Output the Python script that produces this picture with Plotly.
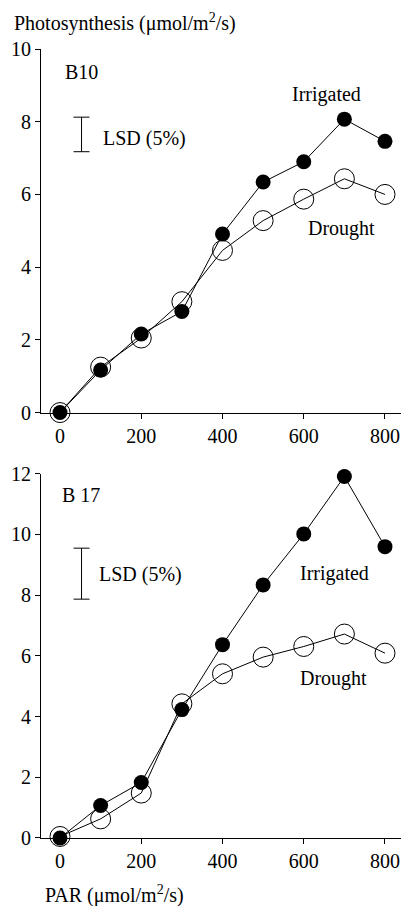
import plotly.graph_objects as go

par = [0, 100, 200, 300, 400, 500, 600, 700, 800]

b10_irrigated = [0.0, 1.17, 2.16, 2.78, 4.91, 6.34, 6.90, 8.07, 7.46]
b10_drought = [0.0, 1.25, 2.05, 3.05, 4.46, 5.28, 5.87, 6.43, 6.00]

b17_irrigated = [0.0, 1.07, 1.83, 4.23, 6.37, 8.34, 10.02, 11.91, 9.60]
b17_drought = [0.05, 0.63, 1.48, 4.42, 5.41, 5.96, 6.31, 6.72, 6.09]

lsd_x = [53]
b10_lsd_center = [7.65]
b10_lsd_half = [0.475]
b17_lsd_center = [8.71]
b17_lsd_half = [0.84]

top_yticks = [0, 2, 4, 6, 8, 10]
bot_yticks = [0, 2, 4, 6, 8, 10, 12]
xticks = [0, 200, 400, 600, 800]

FONT = "Liberation Serif"
FS = 20

fig = go.Figure()

def add_panel(xa, ya, irr, dr, lsd_c, lsd_h):
    fig.add_trace(go.Scatter(x=par, y=dr, mode="lines+markers", xaxis=xa, yaxis=ya,
                             line=dict(color="black", width=1), cliponaxis=False,
                             marker=dict(symbol="circle-open", size=20, color="black",
                                         line=dict(width=1, color="black")),
                             showlegend=False))
    fig.add_trace(go.Scatter(x=par, y=irr, mode="lines+markers", xaxis=xa, yaxis=ya,
                             line=dict(color="black", width=1), cliponaxis=False,
                             marker=dict(symbol="circle", size=15, color="black"),
                             showlegend=False))
    fig.add_trace(go.Scatter(x=lsd_x, y=lsd_c, mode="markers", xaxis=xa, yaxis=ya,
                             marker=dict(size=1, color="rgba(0,0,0,0)"),
                             error_y=dict(type="data", array=lsd_h, symmetric=True,
                                          color="black", thickness=1, width=8),
                             showlegend=False))

add_panel("x", "y", b10_irrigated, b10_drought, b10_lsd_center, b10_lsd_half)
add_panel("x2", "y2", b17_irrigated, b17_drought, b17_lsd_center, b17_lsd_half)

axis_common = dict(showline=True, linecolor="black", linewidth=1, ticks="outside",
                   ticklen=5, tickwidth=1, tickcolor="black", showgrid=False,
                   zeroline=False, tickfont=dict(family=FONT, size=FS, color="black"))

xr = [-46.8, 839.4]
fig.update_layout(
    width=401, height=906,
    margin=dict(l=41, r=0, t=49, b=67.7),
    plot_bgcolor="white", paper_bgcolor="white",
    font=dict(family=FONT, size=FS, color="black"),
    xaxis=dict(domain=[0, 1], range=xr, tickvals=xticks, anchor="y", **axis_common),
    yaxis=dict(domain=[0.5392, 1.0], range=[0, 10], tickvals=top_yticks, anchor="x", **axis_common),
    xaxis2=dict(domain=[0, 1], range=xr, tickvals=xticks, anchor="y2", **axis_common),
    yaxis2=dict(domain=[0, 0.4616], range=[0, 12], tickvals=bot_yticks, anchor="x2", **axis_common),
)

def ann(text, x, y, xref, yref, xanchor="center"):
    fig.add_annotation(text=text, x=x, y=y, xref=xref, yref=yref, showarrow=False,
                       xanchor=xanchor, yanchor="middle",
                       font=dict(family=FONT, size=FS, color="black"))

ann("B10", 7, 9.37, "x", "y", "left")
ann("LSD (5%)", 102, 7.55, "x", "y", "left")
ann("Irrigated", 656, 8.74, "x", "y")
ann("Drought", 692, 5.07, "x", "y")

ann("B 17", 0, 11.31, "x2", "y2", "left")
ann("LSD (5%)", 90, 8.67, "x2", "y2", "left")
ann("Irrigated", 675, 8.73, "x2", "y2")
ann("Drought", 672, 5.27, "x2", "y2")

ann("Photosynthesis (μmol/m<sup>2</sup>/s)", -0.0806, 1.034, "paper", "paper", "left")
ann("PAR (μmol/m<sup>2</sup>/s)", 0.0064, -0.0718, "paper", "paper", "left")

fig.write_html("out.html",
               config={"displayModeBar": False},
               post_script="document.body.style.margin='0px';document.body.style.overflow='hidden';")
